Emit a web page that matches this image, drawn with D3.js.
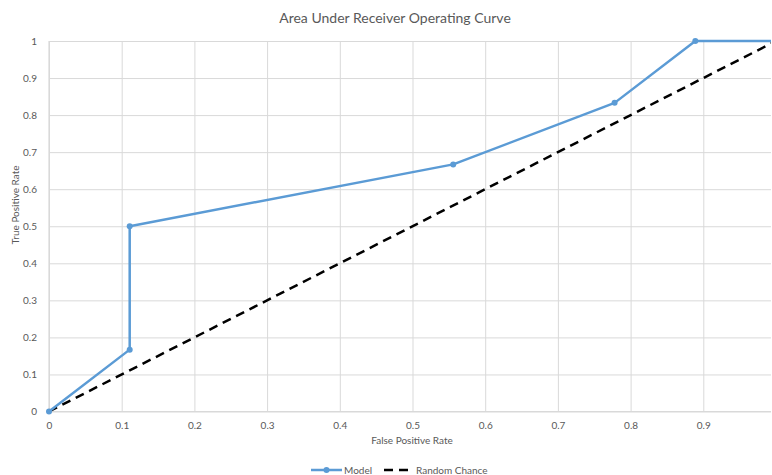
<!DOCTYPE html>
<html>
<head>
<meta charset="utf-8">
<script src="https://cdn.jsdelivr.net/npm/d3@7"></script>
<style>
  body { margin: 0; background: #fff; }
  text { font-family: Lato, "Open Sans", sans-serif; fill: #595959; }
</style>
</head>
<body>
<div id="roc-chart"></div>
<script>
// Model ROC points (false positive rate, true positive rate)
var modelFpr = [0, 0.111, 0.111, 0.556, 0.778, 0.889, 1];
var modelTpr = [0, 0.167, 0.5, 0.667, 0.833, 1, 1];
// Random chance diagonal
var chanceFpr = [0, 1];
var chanceTpr = [0, 1];
var xTicks = [0, 0.1, 0.2, 0.3, 0.4, 0.5, 0.6, 0.7, 0.8, 0.9];
var yTicks = [0, 0.1, 0.2, 0.3, 0.4, 0.5, 0.6, 0.7, 0.8, 0.9, 1];

var width = 772, height = 475;
var plotRight = 771;

var svg = d3.select('#roc-chart')
            .append('svg')
            .attr('width', width)
            .attr('height', height);

// plot area is cut at the right edge, like the picture
var x = d3.scaleLinear().domain([0, 1]).range([49, 776]);
var y = d3.scaleLinear().domain([0, 1]).range([411.5, 41]);

svg.append('clipPath').attr('id', 'clip')
   .append('rect').attr('x', 0).attr('y', 0).attr('width', plotRight).attr('height', height);

// gridlines
var y_axis = d3.axisLeft(y)
               .tickValues(yTicks)
               .tickSize(-(plotRight - x(0)))
               .tickPadding(12)
               .tickFormat(d3.format('~g'));

var x_axis = d3.axisBottom(x)
               .tickValues(xTicks)
               .tickSize(-(y(0) - y(1)))
               .tickPadding(10)
               .tickFormat(d3.format('~g'));

var gy = svg.append('g')
   .attr('transform', 'translate(' + x(0) + ',0)')
   .call(y_axis);

var gx = svg.append('g')
   .attr('transform', 'translate(0,' + y(0) + ')')
   .call(x_axis);

[gx, gy].forEach(function(g) {
  g.select('.domain').remove();
  g.selectAll('.tick line').attr('stroke', '#d9d9d9').attr('stroke-width', 1);
  g.selectAll('.tick text').style('font-size', '10px').attr('fill', '#595959');
});

// axis lines
svg.append('line')
   .attr('x1', x(0)).attr('x2', plotRight)
   .attr('y1', y(0)).attr('y2', y(0))
   .attr('stroke', '#d9d9d9').attr('stroke-width', 1.2);
svg.append('line')
   .attr('x1', x(0)).attr('x2', x(0))
   .attr('y1', y(0)).attr('y2', y(1))
   .attr('stroke', '#d9d9d9').attr('stroke-width', 1.2);

var plot = svg.append('g').attr('clip-path', 'url(#clip)');

var line = d3.line()
             .x(function(d) { return x(d[0]); })
             .y(function(d) { return y(d[1]); });

var chance = d3.zip(chanceFpr, chanceTpr);
var model = d3.zip(modelFpr, modelTpr);

plot.append('path')
    .attr('d', line(chance))
    .attr('fill', 'none')
    .attr('stroke', '#000')
    .attr('stroke-width', 2.5)
    .attr('stroke-dasharray', '9 6');

plot.append('path')
    .attr('d', line(model))
    .attr('fill', 'none')
    .attr('stroke', '#5b9bd5')
    .attr('stroke-linejoin', 'round')
    .attr('stroke-width', 2.5);

plot.selectAll('circle.pt')
    .data(model)
    .enter().append('circle')
    .attr('class', 'pt')
    .attr('cx', function(d) { return x(d[0]); })
    .attr('cy', function(d) { return y(d[1]); })
    .attr('r', 3)
    .attr('fill', '#5b9bd5');

// title and axis labels
svg.append('text')
   .attr('x', 395).attr('y', 23)
   .attr('text-anchor', 'middle')
   .style('font-size', '14px')
   .text('Area Under Receiver Operating Curve');

svg.append('text')
   .attr('x', 412).attr('y', 444)
   .attr('text-anchor', 'middle')
   .style('font-size', '10px')
   .text('False Positive Rate');

svg.append('text')
   .attr('transform', 'translate(19,205) rotate(-90)')
   .attr('text-anchor', 'middle')
   .style('font-size', '10px')
   .text('True Positive Rate');

// legend
var lg = svg.append('g').attr('transform', 'translate(0,470)');
lg.append('line').attr('x1', 311).attr('x2', 342).attr('y1', 0).attr('y2', 0)
  .attr('stroke', '#5b9bd5').attr('stroke-width', 2.5);
lg.append('circle').attr('cx', 326.5).attr('cy', 0).attr('r', 3).attr('fill', '#5b9bd5');
lg.append('text').attr('x', 344).attr('y', 3.5).style('font-size', '10px').text('Model');
lg.append('line').attr('x1', 384).attr('x2', 408).attr('y1', 0).attr('y2', 0)
  .attr('stroke', '#000').attr('stroke-width', 2.5).attr('stroke-dasharray', '9 6');
lg.append('text').attr('x', 416).attr('y', 3.5).style('font-size', '10px').text('Random Chance');
</script>
</body>
</html>
